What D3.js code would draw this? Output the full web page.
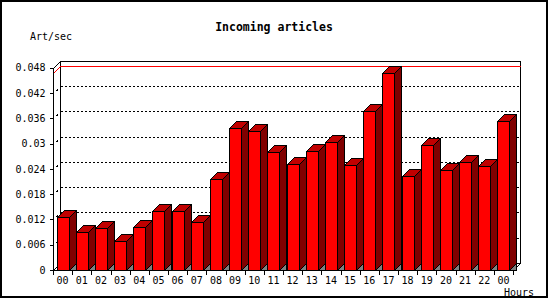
<!doctype html>
<html>
  <head>
    <script src="https://d3js.org/d3.v7.min.js"></script>
    <style>
      body { margin: 0; background: #fff; }
      text { font-family: "DejaVu Sans Mono", monospace; }
    </style>
  </head>
  <body>
    <script>
    // chart values
    var hours = ["00","01","02","03","04","05","06","07","08","09","10","11",
                 "12","13","14","15","16","17","18","19","20","21","22","00"];
    var artsPerSec = [0.0125, 0.0089, 0.0099, 0.0068, 0.0101, 0.0139, 0.0141, 0.0115,
                      0.0216, 0.0337, 0.0330, 0.0280, 0.0251, 0.0282, 0.0304, 0.0250,
                      0.0376, 0.0467, 0.0222, 0.0297, 0.0236, 0.0257, 0.0246, 0.0354];
    var yTicks = [0, 0.006, 0.012, 0.018, 0.024, 0.03, 0.036, 0.042, 0.048];
    var yTickLabels = ["0","0.006","0.012","0.018","0.024","0.03","0.036","0.042","0.048"];

    var width = 550;
    var height = 300;

    // front plane of the plot and the 3d depth
    var pLeft = 53, pRight = 513, pBottom = 270, pTop = 67.6;
    var depth = 7;

    var svg = d3.select("body")
              .append("svg")
              .attr("width", width)
              .attr("height", height);

    var x = d3.scaleBand()
              .domain(d3.range(hours.length))
              .range([pLeft, pRight])
              .paddingInner(0.374)
              .paddingOuter(0.187);

    var y = d3.scaleLinear()
              .domain([0, 0.048])
              .range([pBottom, pTop]);

    var step = x.step();

    // outer frame
    svg.append("rect")
      .attr("x", 1).attr("y", 1)
      .attr("width", 546).attr("height", 296)
      .attr("fill", "none")
      .attr("stroke", "#000")
      .attr("stroke-width", 2);

    svg.append("text")
      .attr("x", 274)
      .attr("y", 31)
      .attr("text-anchor", "middle")
      .attr("font-weight", "bold")
      .attr("font-size", "11.5px")
      .text("Incoming articles");

    svg.append("text")
      .attr("x", 30)
      .attr("y", 40)
      .attr("font-size", "10px")
      .text("Art/sec");

    svg.append("text")
      .attr("x", 534)
      .attr("y", 296)
      .attr("text-anchor", "end")
      .attr("font-size", "10px")
      .text("Hours");

    var g = svg.append("g").attr("shape-rendering", "crispEdges");

    // dotted grid on the back wall
    g.selectAll(".grid")
      .data(yTicks.slice(1, -1))
      .enter()
      .append("path")
        .attr("class", "grid")
        .attr("fill", "none")
        .attr("stroke", "#000")
        .attr("stroke-dasharray", "2,2")
        .attr("d", function(d) {
          var yy = Math.round(y(d)) + 0.5 - depth;
          return "M" + (pLeft + depth + 1) + "," + yy + "L" + (pRight + depth) + "," + yy;
        });

    // only a small piece of each dotted diagonal shows
    g.selectAll(".grid-diag")
      .data(yTicks.slice(1, -1))
      .enter()
      .append("path")
        .attr("class", "grid-diag")
        .attr("fill", "none")
        .attr("stroke", "#000")
        .attr("d", function(d) {
          var yy = Math.round(y(d)) + 0.5;
          return "M" + (pLeft + 3.5) + "," + (yy - 2) + "L" + (pLeft + 4.5) + "," + (yy - 4);
        });

    // back wall and floor outline
    var bl = pLeft + 0.5, br = pRight + 0.5, bt = Math.round(pTop) + 0.5, bb = pBottom + 0.5;
    g.append("path")
      .attr("fill", "none")
      .attr("stroke", "#000")
      .attr("d", "M" + bl + "," + bt + "L" + (bl + depth) + "," + (bt - depth) +
                 "L" + (br + depth) + "," + (bt - depth) +
                 "L" + (br + depth) + "," + (bb - depth) +
                 "L" + br + "," + bb +
                 "M" + (bl + depth) + "," + (bt - depth) +
                 "L" + (bl + depth) + "," + (bb - depth) +
                 "L" + (br + depth) + "," + (bb - depth) +
                 "M" + bl + "," + bb +
                 "L" + (bl + depth) + "," + (bb - depth));

    // red line at the maximum
    var maxY = Math.round(y(d3.max(artsPerSec))) + 0.5;
    g.append("path")
      .attr("fill", "none")
      .attr("stroke", "#ff0000")
      .attr("d", "M" + bl + "," + maxY + "L" + (bl + depth) + "," + (maxY - depth) +
                 "L" + (br + depth) + "," + (maxY - depth));

    // bars: floor shadow, side, top, front
    var bars = g.selectAll(".bar")
      .data(artsPerSec)
      .enter()
      .append("g")
        .attr("class", "bar");

    function x0(d, i) { return Math.round(x(i)) + 0.5; }
    function x1(d, i) { return Math.round(x(i) + x.bandwidth()) + 0.5; }
    function yt(d) { return Math.round(y(d)) + 0.5; }

    bars.append("path")
      .attr("fill", "#808080")
      .attr("stroke", "#000")
      .attr("d", function(d, i) {
        return "M" + x1(d, i) + "," + bb + "L" + (x1(d, i) + depth) + "," + (bb - depth) +
               "L" + (x1(d, i) + depth) + "," + bb + "Z";
      });

    bars.append("path")
      .attr("fill", "#800000")
      .attr("stroke", "#000")
      .attr("d", function(d, i) {
        return "M" + x1(d, i) + "," + yt(d) + "L" + (x1(d, i) + depth) + "," + (yt(d) - depth) +
               "L" + (x1(d, i) + depth) + "," + (bb - depth) + "L" + x1(d, i) + "," + bb + "Z";
      });

    bars.append("path")
      .attr("fill", "#c00000")
      .attr("stroke", "#000")
      .attr("d", function(d, i) {
        return "M" + x0(d, i) + "," + yt(d) + "L" + (x0(d, i) + depth) + "," + (yt(d) - depth) +
               "L" + (x1(d, i) + depth) + "," + (yt(d) - depth) + "L" + x1(d, i) + "," + yt(d) + "Z";
      });

    bars.append("rect")
      .attr("fill", "#ff0000")
      .attr("stroke", "#000")
      .attr("x", function(d, i) { return x0(d, i); })
      .attr("y", function(d) { return yt(d); })
      .attr("width", function(d, i) { return x1(d, i) - x0(d, i); })
      .attr("height", function(d) { return bb - yt(d); });

    // front axes
    var yAxis = d3.axisLeft(y)
                  .tickValues(yTicks)
                  .tickFormat(function(d, i) { return yTickLabels[i]; })
                  .tickSize(4)
                  .tickPadding(4);

    var yG = svg.append("g")
      .attr("transform", "translate(" + bl + ",0)")
      .attr("shape-rendering", "crispEdges")
      .call(yAxis);
    yG.select(".domain").attr("d", "M0," + bt + "V" + bb);
    yG.selectAll("text").attr("font-family", "DejaVu Sans Mono").attr("font-size", "10px");

    var xTicks = d3.range(hours.length + 1).map(function(i) { return pLeft + i * step; });

    svg.append("path")
      .attr("fill", "none")
      .attr("stroke", "#000")
      .attr("shape-rendering", "crispEdges")
      .attr("d", "M" + bl + "," + bb + "H" + br +
                 xTicks.map(function(t) {
                   var tx = Math.round(t) + 0.5;
                   return "M" + tx + "," + bb + "V" + (bb + 4);
                 }).join(""));

    svg.selectAll(".hour-label")
      .data(hours)
      .enter()
      .append("text")
        .attr("class", "hour-label")
        .attr("x", function(d, i) { return x(i) + x.bandwidth() / 2; })
        .attr("y", 283.5)
        .attr("text-anchor", "middle")
        .attr("font-size", "10px")
        .text(function(d) { return d; });
    </script>
  </body>
</html>
